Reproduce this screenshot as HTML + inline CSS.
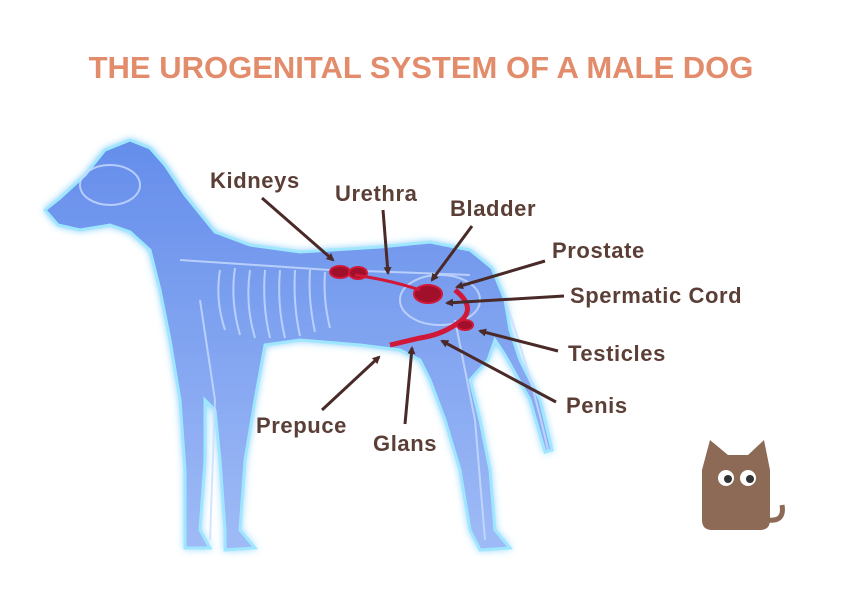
<!DOCTYPE html>
<html><head><meta charset="utf-8"><style>
html,body{margin:0;padding:0;background:#fff}
svg{display:block}
.t{font-family:"Liberation Sans",sans-serif;font-weight:bold}
.l{font-family:"Liberation Sans",sans-serif;font-weight:bold;font-size:22px;fill:#5b3f36;letter-spacing:0.6px}
</style></head><body>
<svg width="850" height="600" viewBox="0 0 850 600" xmlns="http://www.w3.org/2000/svg">
<defs>
<filter id="glow" x="-20%" y="-20%" width="140%" height="140%"><feGaussianBlur stdDeviation="4" result="b"/><feMerge><feMergeNode in="b"/><feMergeNode in="SourceGraphic"/></feMerge></filter>
<linearGradient id="bg" x1="0" y1="0" x2="0" y2="1"><stop offset="0" stop-color="#4a7ae8"/><stop offset="1" stop-color="#8fb0f5"/></linearGradient>
<marker id="ar" markerWidth="8" markerHeight="8" refX="6" refY="4" orient="auto" markerUnits="userSpaceOnUse"><path d="M0,0 L8,4 L0,8 z" fill="#4a2a28"/></marker>
</defs>
<text x="421" y="78" text-anchor="middle" class="t" font-size="31" fill="#e38c6c">THE UROGENITAL SYSTEM OF A MALE DOG</text>
<g filter="url(#glow)" stroke="#8fe3ff" stroke-width="3" fill="url(#bg)" opacity="0.85">
<path d="M45,210 L60,198 L85,175 L105,150 L130,140 L150,148 L165,165 L185,195 L215,232 L250,245 L300,252 L380,247 L430,242 L470,250 L492,268 L505,300 L510,330 L520,360 L540,400 L552,450 L545,452 L530,400 L505,355 L495,340 L488,360 L470,380 L480,420 L490,470 L495,530 L510,548 L480,550 L470,530 L460,470 L445,420 L430,380 L420,360 L400,350 L360,345 L300,340 L265,345 L255,400 L245,460 L240,530 L255,548 L225,550 L225,530 L220,460 L215,410 L205,400 L205,460 L200,530 L210,548 L185,548 L185,470 L180,400 L170,340 L160,290 L150,250 L130,232 L110,225 L80,230 L58,225 Z"/>
</g>
<g stroke="#c9dcff" stroke-width="2" fill="none" opacity="0.8">
<path d="M180,260 Q260,265 330,270 Q400,272 470,275"/>
<path d="M220,270 Q215,300 225,330"/><path d="M235,268 Q230,300 240,335"/><path d="M250,270 Q245,305 255,338"/><path d="M265,270 Q262,305 270,338"/><path d="M280,270 Q277,305 285,338"/><path d="M295,270 Q293,305 300,336"/><path d="M310,270 Q308,300 315,332"/><path d="M325,272 Q323,300 330,328"/>
<ellipse cx="440" cy="300" rx="40" ry="25"/>
<path d="M200,300 L215,400 L210,540"/><path d="M455,320 L475,420 L485,540"/>
<ellipse cx="110" cy="185" rx="30" ry="20"/>
<path d="M505,300 Q530,370 548,450"/>
</g>
<g fill="#a0102a" stroke="#d01838" stroke-width="2">
<ellipse cx="340" cy="272" rx="10" ry="6"/><ellipse cx="358" cy="273" rx="9" ry="6"/>
<ellipse cx="428" cy="294" rx="14" ry="9"/>
<path d="M355,275 Q390,280 420,290" fill="none" stroke-width="3"/>
<path d="M455,290 Q480,310 455,325 Q440,335 420,338 L390,345" fill="none" stroke-width="5"/>
<ellipse cx="465" cy="325" rx="8" ry="5"/>
</g>
<g stroke="#4a2a28" stroke-width="3" marker-end="url(#ar)">
<line x1="262" y1="198" x2="333" y2="260"/>
<line x1="383" y1="210" x2="388" y2="273"/>
<line x1="472" y1="226" x2="432" y2="280"/>
<line x1="545" y1="261" x2="457" y2="287"/>
<line x1="564" y1="296" x2="447" y2="303"/>
<line x1="558" y1="351" x2="480" y2="331"/>
<line x1="556" y1="402" x2="442" y2="341"/>
<line x1="322" y1="410" x2="379" y2="357"/>
<line x1="405" y1="424" x2="412" y2="348"/>
</g>
<text x="210" y="188" class="l">Kidneys</text>
<text x="335" y="201" class="l">Urethra</text>
<text x="450" y="216" class="l">Bladder</text>
<text x="552" y="258" class="l">Prostate</text>
<text x="570" y="303" class="l">Spermatic Cord</text>
<text x="568" y="361" class="l">Testicles</text>
<text x="566" y="413" class="l">Penis</text>
<text x="256" y="433" class="l">Prepuce</text>
<text x="373" y="451" class="l">Glans</text>
<g fill="#8c6a56">
<path d="M702,470 L710,440 L728,455 L748,455 L764,440 L770,470 L770,520 Q770,530 760,530 L712,530 Q702,530 702,520 Z"/>
<path d="M768,520 Q785,522 782,505" stroke="#8c6a56" stroke-width="5" fill="none"/>
</g>
<circle cx="726" cy="478" r="8" fill="#fff"/><circle cx="748" cy="478" r="8" fill="#fff"/>
<circle cx="728" cy="479" r="4" fill="#333"/><circle cx="750" cy="479" r="4" fill="#333"/>
</svg>
</body></html>
